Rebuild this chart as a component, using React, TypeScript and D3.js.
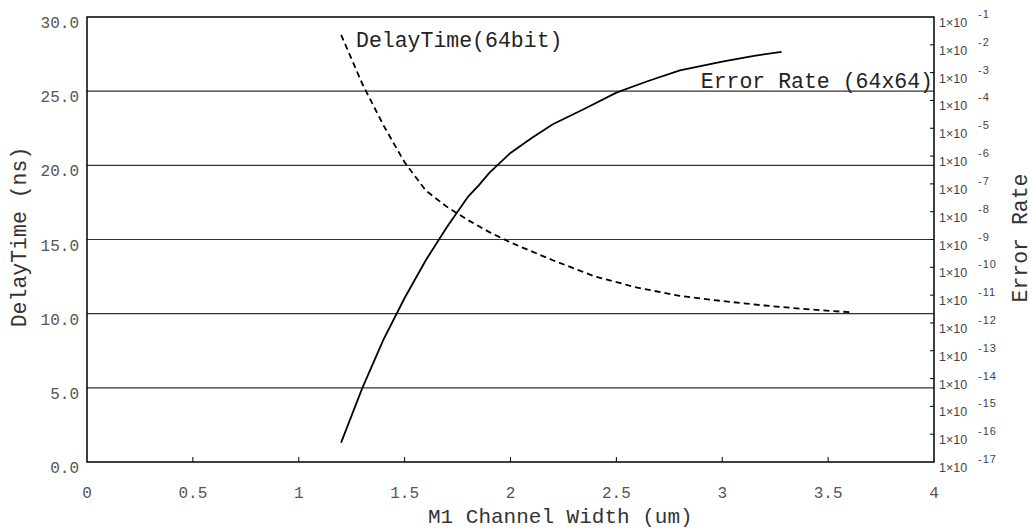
import React from "react";
import * as d3 from "d3";

const delayWidth = [1.2, 1.3, 1.4, 1.5, 1.6, 1.7, 1.8, 1.9, 2.0, 2.2, 2.4, 2.6, 2.8, 3.0, 3.2, 3.4, 3.6];
const delayTime = [28.8, 25.5, 22.7, 20.2, 18.3, 17.2, 16.3, 15.5, 14.8, 13.6, 12.5, 11.75, 11.2, 10.85, 10.55, 10.3, 10.1];

const errWidth = [1.2, 1.3, 1.4, 1.5, 1.6, 1.7, 1.8, 1.85, 1.9, 2.0, 2.1, 2.2, 2.35, 2.5, 2.65, 2.8, 3.0, 3.15, 3.28];
const errRate = [5.0e-17, 4.5e-15, 2.5e-13, 7.9e-12, 1.8e-10, 2.8e-9, 3.5e-8, 8.9e-8, 2.5e-7, 1.3e-6, 4.5e-6, 1.4e-5, 5.0e-5, 1.9e-4, 5.0e-4, 1.2e-3, 2.5e-3, 4.0e-3, 5.6e-3];

const xTicks = [0, 0.5, 1, 1.5, 2, 2.5, 3, 3.5, 4];
const xTickLabels = ["0", "0.5", "1", "1.5", "2", "2.5", "3", "3.5", "4"];
const yTicks = [0, 5, 10, 15, 20, 25, 30];
const yTickLabels = ["0.0", "5.0", "10.0", "15.0", "20.0", "25.0", "30.0"];
const rExponents = [-1, -2, -3, -4, -5, -6, -7, -8, -9, -10, -11, -12, -13, -14, -15, -16, -17];

const MONO = "'Liberation Mono', 'Courier New', monospace";
const SANS = "'Liberation Sans', Arial, sans-serif";

export default function App() {
  const L = 87, R = 934, T = 17, B = 462;
  const x = d3.scaleLinear().domain([0, 4]).range([L, R]);
  const yL = d3.scaleLinear().domain([0, 30]).range([B, T]);
  const yR = d3.scaleLog().domain([1e-17, 1e-1]).range([B, T]);

  const delayLine = d3.line<number>().x((_, i) => x(delayWidth[i])).y((d) => yL(d)).curve(d3.curveLinear);
  const errLine = d3.line<number>().x((_, i) => x(errWidth[i])).y((d) => yR(d)).curve(d3.curveLinear);

  return (
    <svg width={1033} height={529} style={{ position: "absolute", left: 0, top: 0, background: "#fff" }}>
      <rect x={0} y={0} width={1033} height={529} fill="#fff" />
      {yTicks.filter((v) => v > 0 && v < 30).map((v) => (
        <line key={"g" + v} x1={L} x2={R} y1={yL(v)} y2={yL(v)} stroke="#333" strokeWidth={1.2} />
      ))}
      {xTicks.filter((v) => v > 0 && v < 4).map((v) => (
        <line key={"xt" + v} x1={x(v)} x2={x(v)} y1={B} y2={B - 5} stroke="#000" strokeWidth={1} />
      ))}
      {rExponents.filter((e) => e > -17 && e < -1).map((e) => (
        <line key={"rt" + e} x1={R} x2={R - 4} y1={yR(Math.pow(10, e))} y2={yR(Math.pow(10, e))} stroke="#000" strokeWidth={1} />
      ))}
      <rect x={L} y={T} width={R - L} height={B - T} fill="none" stroke="#000" strokeWidth={1.5} />
      <path d={delayLine(delayTime) || ""} fill="none" stroke="#000" strokeWidth={1.8} strokeDasharray="6,4" />
      <path d={errLine(errRate) || ""} fill="none" stroke="#000" strokeWidth={1.8} />
      {yTicks.map((v, i) => (
        <text key={"yl" + v} x={79} y={yL(v) + 11} textAnchor="end" fontFamily={MONO} fontSize={16} fill="#555">
          {yTickLabels[i]}
        </text>
      ))}
      {xTicks.map((v, i) => (
        <text key={"xl" + v} x={x(v)} y={498} textAnchor="middle" fontFamily={MONO} fontSize={16} fill="#555">
          {xTickLabels[i]}
        </text>
      ))}
      {rExponents.map((e) => {
        const yy = yR(Math.pow(10, e));
        return (
          <g key={"rl" + e}>
            <text x={939} y={yy + 10} fontFamily={SANS} fontSize={12.5} fill="#444">1×10</text>
            <text x={978} y={yy + 1} fontFamily={SANS} fontSize={11} fill="#444" letterSpacing={1}>{"-" + Math.abs(e)}</text>
          </g>
        );
      })}
      <text x={356} y={47} fontFamily={MONO} fontSize={21.5} fill="#222">DelayTime(64bit)</text>
      <text x={933} y={88} textAnchor="end" fontFamily={MONO} fontSize={21.5} fill="#222">Error Rate (64x64)</text>
      <text x={428} y={523} fontFamily={MONO} fontSize={21} fill="#333">M1 Channel Width (um)</text>
      <text transform="translate(25.5,237) rotate(-90)" textAnchor="middle" fontFamily={MONO} fontSize={21.5} fill="#333">DelayTime (ns)</text>
      <text transform="translate(1027,238) rotate(-90)" textAnchor="middle" fontFamily={MONO} fontSize={21.5} fill="#333">Error Rate</text>
    </svg>
  );
}
